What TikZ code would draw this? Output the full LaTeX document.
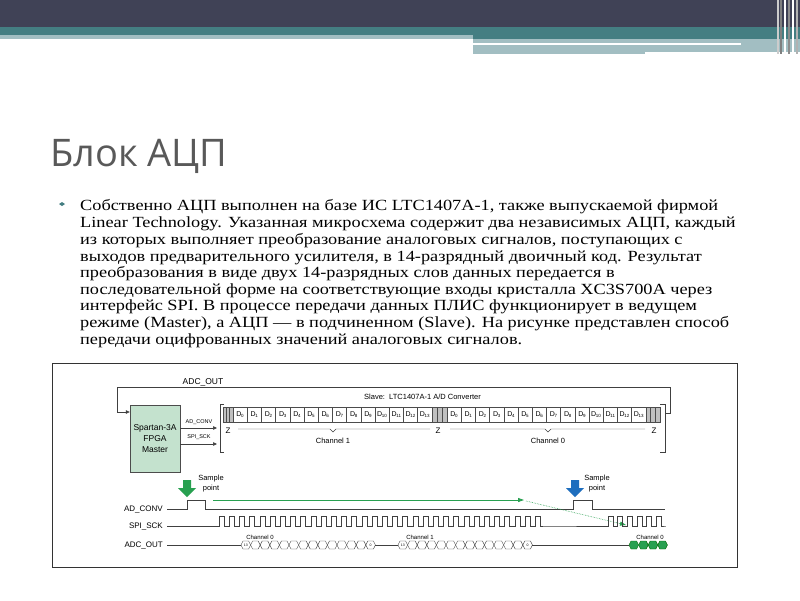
\documentclass[tikz,border=0pt]{standalone}
\usepackage{fontspec}
\setmainfont[FakeStretch=1.18]{Liberation Serif}
\newfontfamily\ttl{Open Sans}
\newfontfamily\dg{Liberation Sans}
\usetikzlibrary{arrows.meta}
\definecolor{hdark}{RGB}{64,66,86}
\definecolor{hteal}{RGB}{68,126,130}
\definecolor{hlight}{RGB}{162,190,194}
\definecolor{fgreen}{RGB}{196,226,206}
\definecolor{agreen}{RGB}{40,160,80}
\definecolor{ablue}{RGB}{30,110,190}
\definecolor{cellg}{RGB}{150,150,150}
\tikzset{
 body/.style={anchor=base west,inner sep=0,font=\fontsize{15.5}{17}\selectfont},
 lab/.style={inner sep=0,font=\dg\fontsize{7.5}{9}\selectfont},
 sig/.style={line width=0.6pt,draw=black!75},
 arr/.style={-{Triangle[length=4pt,width=3.5pt]},line width=0.6pt}
}
\begin{document}
\begin{tikzpicture}[x=1pt,y=-1pt]
\useasboundingbox (0,0) rectangle (800,600);
\fill[white] (0,0) rectangle (800,600);
% header
\fill[hdark] (0,0) rectangle (800,27);
\fill[hteal] (0,27) rectangle (800,35);
\fill[hlight] (0,35) rectangle (473,39);
\fill[hteal] (473,35) rectangle (800,39);
\fill[hlight] (473,39) rectangle (800,54);
\fill[white] (473,43) rectangle (741,45);
\fill[white] (645,52) rectangle (800,54);
\foreach \x/\c in {777/black!20,780/black!50,784/white,788/black!45,792/white,796/black!30}{\fill[\c] (\x,0) rectangle ++(1.5,54);}
% title
\node[anchor=base west,inner sep=0,text=black!65,font=\ttl\fontsize{38}{44}\selectfont] (title) at (50,166) {Блок АЦП};
% bullet
\fill[hteal] (59,204) -- (62,202) -- (65,204) -- (62,206) -- cycle;
\node[body] (l1) at (80,210) {Собственно АЦП выполнен на базе ИС LTC1407A-1, также выпускаемой фирмой};
\node[body] (l2) at (80,227) {Linear Technology. Указанная микросхема содержит два независимых АЦП, каждый};
\node[body] (l3) at (80,244) {из которых выполняет преобразование аналоговых сигналов, поступающих с};
\node[body] (l4) at (80,261) {выходов предварительного усилителя, в 14-разрядный двоичный код. Результат};
\node[body] (l5) at (80,277) {преобразования в виде двух 14-разрядных слов данных передается в};
\node[body] (l6) at (80,294) {последовательной форме на соответствующие входы кристалла XC3S700A через};
\node[body] (l7) at (80,310) {интерфейс SPI. В процессе передачи данных ПЛИС функционирует в ведущем};
\node[body] (l8) at (80,327) {режиме (Master), а АЦП — в подчиненном (Slave). На рисунке представлен способ};
\node[body] (l9) at (80,344) {передачи оцифрованных значений аналоговых сигналов.};
% diagram frame
\draw[black!80,line width=0.8pt] (52,363) rectangle (737,567);
% FPGA
\node[draw=black!70,fill=fgreen,minimum width=50,minimum height=67,inner sep=0,align=center,font=\dg\fontsize{8.5}{11}\selectfont] (fpga) at (155,438.5) {Spartan-3A\\FPGA\\Master};
% feedback
\node[lab,font=\dg\fontsize{8.5}{9}\selectfont] (adcl) at (203,382) {ADC\_OUT};
\draw[sig] (665,413) -- (670,413) -- (670,387) -- (117,387) -- (117,412);
\draw[arr,black!75] (117,412) -- (fpga.west|-0,412);
% brackets
\draw[sig] (224,404) -- (220,404) -- (220,452) -- (224,452);
\draw[sig] (660,404) -- (665,404) -- (665,452) -- (660,452);
\draw[arr,black!75] (fpga.east|-0,428) -- (217,428);
\draw[arr,black!75] (fpga.east|-0,444) -- (217,444);
\node[lab,font=\dg\fontsize{5.5}{6}\selectfont] (adc) at (199,422.5) {AD\_CONV};
\node[lab,font=\dg\fontsize{5.5}{6}\selectfont] (sck) at (199,437.5) {SPI\_SCK};
\node[lab,font=\dg\fontsize{7.5}{9}\selectfont,anchor=west] (slave) at (364,397) {Slave:\ \ LTC1407A-1 A/D Converter};
% data cells
\foreach \gx/\gw in {223/10,432/15,646/14}{
  \draw[black!70,fill=cellg!60] (\gx,407) rectangle ++(\gw,15);
  \foreach \k in {1,2}{\draw[black!70] (\gx+\k*\gw/3,407) -- ++(0,15);}
}
\foreach \sx in {233,447}{
 \foreach \i in {0,...,13}{
  \draw[black!70] (\sx+\i*14.2,407) rectangle ++(14.2,15);
  \node[lab,font=\dg\fontsize{7}{8}\selectfont] at (\sx+\i*14.2+7.1,414.5) {D\kern-0.3pt\raisebox{-1.5pt}{\fontsize{4.5}{5}\selectfont\i}};
 }}
% Z and braces
\foreach \zx in {228,438,654}{\node[lab,font=\dg\fontsize{8}{9}\selectfont] at (\zx,431) {Z};}
\draw[sig,line width=0.4pt] (238,429) -- (330,429) -- (333,432) -- (336,429) -- (430,429);
\draw[sig,line width=0.4pt] (450,429) -- (545,429) -- (548,432) -- (551,429) -- (645,429);
\node[lab,font=\dg\fontsize{7.5}{9}\selectfont] at (333,441) {Channel 1};
\node[lab,font=\dg\fontsize{7.5}{9}\selectfont] at (548,441) {Channel 0};
% sample arrows
\fill[agreen] (183,480) rectangle (191,488) (178,488) -- (196,488) -- (187,497) -- cycle;
\fill[ablue] (571,480) rectangle (579,488) (566,488) -- (584,488) -- (575,497) -- cycle;
\node[lab,align=center,font=\dg\fontsize{7.5}{10}\selectfont] (sp1) at (211,484) {Sample\\point};
\node[lab,align=center,font=\dg\fontsize{7.5}{10}\selectfont] (sp2) at (597,484) {Sample\\point};
% timing labels
\node[lab,anchor=east,font=\dg\fontsize{8}{9}\selectfont] (t1) at (163,509) {AD\_CONV};
\node[lab,anchor=east,font=\dg\fontsize{8}{9}\selectfont] (t2) at (163,526) {SPI\_SCK};
\node[lab,anchor=east,font=\dg\fontsize{8}{9}\selectfont] (t3) at (163,545) {ADC\_OUT};
% AD_CONV wave
\draw[sig] (167,509) -- (187,509) -- (187,500) -- (205,500) -- (205,509) -- (573,509) -- (573,500) -- (592,500) -- (592,509) -- (665,509);
% green arrows
\draw[agreen,line width=0.8pt,-{Triangle[length=6pt,width=4pt]}] (213,500) -- (524,500);
\draw[agreen,line width=0.6pt,densely dotted,-{Triangle[length=6pt,width=4pt]}] (526,501) -- (626,525);
% SPI_SCK
\draw[sig] (167,526) -- (219,526)
 \foreach \i in {0,...,31}{ -- (219+\i*10.2,516) -- (224+\i*10.2,516) -- (224+\i*10.2,526) -- (229.2+\i*10.2,526) } -- (608,526)
 \foreach \i in {0,...,5}{ -- (608+\i*9.6,516) -- (613+\i*9.6,516) -- (613+\i*9.6,526) -- (617.6+\i*9.6,526) } -- (665,526);
% ADC_OUT
\draw[sig] (167,545) -- (241,545);
\foreach \sx in {241,398}{
 \foreach \i in {0,...,13}{
  \draw[sig,line width=0.4pt] (\sx+\i*9.6,545) -- ++(2,-4) -- ++(5.6,0) -- ++(2,4) -- ++(-2,4) -- ++(-5.6,0) -- cycle;
 }}
\draw[sig] (375.4,545) -- (398,545);
\draw[sig] (532.4,545) -- (629,545);
\foreach \i in {0,...,3}{
  \draw[fill=agreen,draw=green!40!black,line width=0.4pt] (629+\i*9.6,545) -- ++(2,-4) -- ++(5.6,0) -- ++(2,4) -- ++(-2,4) -- ++(-5.6,0) -- cycle;}
\node[lab,font=\dg\fontsize{3.5}{4}\selectfont] at (245.8,545) {13};
\node[lab,font=\dg\fontsize{3.5}{4}\selectfont] at (370.6,545) {0};
\node[lab,font=\dg\fontsize{3.5}{4}\selectfont] at (402.8,545) {13};
\node[lab,font=\dg\fontsize{3.5}{4}\selectfont] at (527.6,545) {0};
\node[lab,font=\dg\fontsize{6}{7}\selectfont] at (260,537) {Channel 0};
\node[lab,font=\dg\fontsize{6}{7}\selectfont] at (420,537) {Channel 1};
\node[lab,font=\dg\fontsize{6}{7}\selectfont] at (650,537) {Channel 0};
\end{tikzpicture}
\end{document}
